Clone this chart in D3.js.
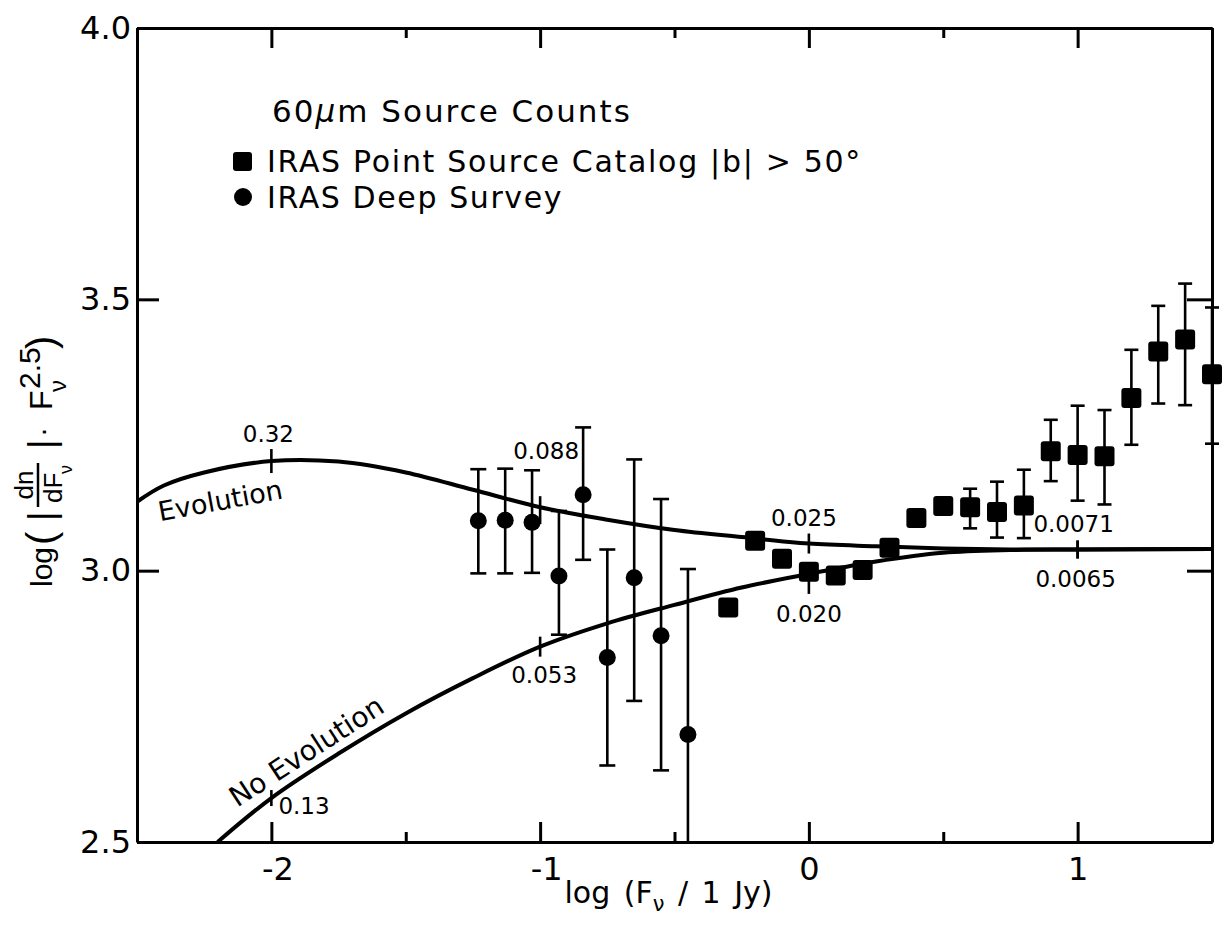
<!DOCTYPE html>
<html><head><meta charset="utf-8">
<script src="https://d3js.org/d3.v7.min.js"></script>
<style>
body{margin:0;background:#fff;}
text{font-family:"DejaVu Sans",sans-serif;fill:#000;}
.axis path,.axis line{stroke:#000;stroke-width:3;}
.axis text{font-size:32px;}
.bar{stroke:#000;stroke-width:2.6;}
.curve{fill:none;stroke:#000;stroke-width:4;}
.ytitle text{font-family:"Liberation Sans",sans-serif;}
</style></head>
<body>
<svg id="chart" width="1226" height="932"></svg>
<script>
// axis ticks
var xTicks=[-2,-1,0,1];
var xMinor=[-2.5,-1.5,-0.5,0.5,1.5];
var yTicks=[2.5,3.0,3.5,4.0];

// IRAS Deep Survey (circles)
var dsX=[-1.23,-1.13,-1.03,-0.93,-0.84,-0.75,-0.65,-0.55,-0.45];
var dsY=[3.092,3.093,3.089,2.990,3.140,2.840,2.987,2.880,2.698];
var dsHi=[3.187,3.188,3.185,3.110,3.264,3.039,3.205,3.132,3.003];
var dsLo=[2.995,2.995,2.996,2.882,3.020,2.641,2.760,2.632,2.40];

// IRAS Point Source Catalog |b|>50 (squares)
var psX=[-0.3,-0.2,-0.1,0.0,0.1,0.2,0.3,0.4,0.5,0.6,0.7,0.8,0.9,1.0,1.1,1.2,1.3,1.4,1.5];
var psY=[2.932,3.055,3.022,2.998,2.991,3.001,3.042,3.097,3.119,3.117,3.108,3.120,3.220,3.213,3.211,3.318,3.404,3.426,3.362];
var psHi=[null,null,null,null,null,null,null,null,null,3.151,3.164,3.186,3.278,3.304,3.296,3.407,3.488,3.529,3.485];
var psLo=[null,null,null,null,null,null,null,null,null,3.078,3.061,3.060,3.165,3.129,3.122,3.232,3.308,3.305,3.234];

// model curves
var evoX=[-2.5,-2.4,-2.25,-2.0,-1.75,-1.5,-1.25,-1.0,-0.75,-0.5,-0.25,0,0.25,0.5,0.75,1.0,1.5];
var evoY=[3.127,3.157,3.181,3.202,3.201,3.181,3.149,3.117,3.094,3.075,3.062,3.050,3.045,3.041,3.039,3.039,3.040];
var noEvoX=[-2.2,-2.0,-1.75,-1.5,-1.25,-1.0,-0.75,-0.5,-0.25,0,0.25,0.5,0.75,1.0,1.5];
var noEvoY=[2.50,2.581,2.663,2.737,2.802,2.860,2.903,2.937,2.969,2.994,3.017,3.033,3.038,3.039,3.040];

// redshift marks on the curves
var markX=[-2,-1,0,1];
var evoMarks=['0.32','0.088','0.025','0.0071'];
var noEvoMarks=['0.13','0.053','0.020','0.0065'];

var L=137,R=1212,T=28,B=842;
var x=d3.scaleLinear().domain([-2.5,1.5]).range([L,R]);
var y=d3.scaleLinear().domain([2.5,4.0]).range([B,T]);
var svg=d3.select('#chart');

// curves
var line=d3.line().x(function(d){return x(d[0])}).y(function(d){return y(d[1])}).curve(d3.curveCatmullRom.alpha(0.5));
var evo=d3.zip(evoX,evoY), noEvo=d3.zip(noEvoX,noEvoY);
svg.append('path').attr('class','curve').attr('d',line(evo));
svg.append('path').attr('class','curve').attr('d',line(noEvo));

function yAt(xs,ys,v){return ys[xs.indexOf(v)];}
// mark ticks + labels (px: tick up, tick down, label dx, label dy, anchor)
var evoLay=[[12,12,-3,-19,'middle'],[11,17,6,-48,'middle'],[10,10,-5,-18,'middle'],[9,9,-4,-18,'middle']];
var noLay=[[8,8,7,16,'start'],[10,10,4,36,'middle'],[0,20,0,48,'middle'],[9,9,-2,37,'middle']];
function marks(xs,ys,labels,lay){
  markX.forEach(function(v,i){
    var cx=x(v), cy=y(yAt(xs,ys,v)), o=lay[i];
    svg.append('line').attr('class','bar').attr('x1',cx).attr('x2',cx).attr('y1',cy-o[0]).attr('y2',cy+o[1]);
    svg.append('text').attr('x',cx+o[2]).attr('y',cy+o[3]).attr('text-anchor',o[4])
       .style('font-size','23px').text(labels[i]);
  });
}
marks(evoX,evoY,evoMarks,evoLay);
marks(noEvoX,noEvoY,noEvoMarks,noLay);

// curve names
svg.append('text').attr('transform','translate('+x(-2.184)+','+y(3.112)+') rotate(-10.4)')
   .attr('text-anchor','middle').style('font-size','27px').text('Evolution');
svg.append('text').attr('transform','translate('+x(-1.85)+','+y(2.652)+') rotate(-33)')
   .attr('text-anchor','middle').style('font-size','28px').text('No Evolution');

// error bars
function bars(xs,hs,ls,cap){
  xs.forEach(function(v,i){
    if(hs[i]==null) return;
    var lo=Math.max(ls[i],2.5), cx=x(v);
    svg.append('line').attr('class','bar').attr('x1',cx).attr('x2',cx).attr('y1',y(hs[i])).attr('y2',y(lo));
    svg.append('line').attr('class','bar').attr('x1',cx-cap).attr('x2',cx+cap).attr('y1',y(hs[i])).attr('y2',y(hs[i]));
    if(ls[i]>=2.5) svg.append('line').attr('class','bar').attr('x1',cx-cap).attr('x2',cx+cap).attr('y1',y(lo)).attr('y2',y(lo));
  });
}
bars(dsX,dsHi,dsLo,8);
bars(psX,psHi,psLo,7);

// points
svg.selectAll('.ds').data(d3.zip(dsX,dsY)).enter().append('circle').attr('class','ds')
   .attr('cx',function(d){return x(d[0])}).attr('cy',function(d){return y(d[1])}).attr('r',8.5);
svg.selectAll('.ps').data(d3.zip(psX,psY)).enter().append('rect').attr('class','ps')
   .attr('x',function(d){return x(d[0])-10}).attr('y',function(d){return y(d[1])-10})
   .attr('width',20).attr('height',20).attr('rx',3);

// axes
svg.append('g').attr('class','axis').attr('transform','translate(0,'+B+')')
   .call(d3.axisBottom(x).tickValues(xTicks).tickSize(-20).tickSizeOuter(0).tickPadding(15)
   .tickFormat(function(d){return d<0?'-'+Math.abs(d):d}))
   .selectAll('text').attr('dx',function(d){return d<0?6:0});
svg.append('g').attr('class','axis').attr('transform','translate(0,'+B+')')
   .call(d3.axisBottom(x).tickValues(xMinor).tickSize(-10).tickSizeOuter(0).tickFormat(''));
svg.append('g').attr('class','axis').attr('transform','translate(0,'+T+')')
   .call(d3.axisTop(x).tickValues(xTicks).tickSize(-20).tickSizeOuter(0).tickFormat(''));
svg.append('g').attr('class','axis').attr('transform','translate(0,'+T+')')
   .call(d3.axisTop(x).tickValues(xMinor).tickSize(-10).tickSizeOuter(0).tickFormat(''));
svg.append('g').attr('class','axis').attr('transform','translate('+L+',0)')
   .call(d3.axisLeft(y).tickValues(yTicks).tickSize(-22).tickSizeOuter(0).tickPadding(6).tickFormat(d3.format('.1f')));
svg.append('g').attr('class','axis').attr('transform','translate('+R+',0)')
   .call(d3.axisRight(y).tickValues(yTicks).tickSize(-25).tickSizeOuter(0).tickFormat(''));

// x title
var xt=svg.append('text').attr('x',(L+R)/2-6).attr('y',903).attr('text-anchor','middle')
   .style('font-size','30px').style('word-spacing','4px');
xt.append('tspan').text('log (F');
xt.append('tspan').attr('dy',8).style('font-size','21px').text('ν');
xt.append('tspan').attr('dy',-8).text(' / 1 Jy)');

// y title (built along the rotated axis)
var yt=svg.append('g').attr('class','ytitle').attr('transform','translate(52,587) rotate(-90)');
function yText(s,px,py,fs){return yt.append('text').attr('x',px).attr('y',py).style('font-size',fs+'px').text(s);}
yText('log',0,0,30);
yText('(',42,3,40);
yText('|',66,2,36);
yText('dn',102,-19,26).attr('text-anchor','middle');
yt.append('line').attr('x1',80).attr('x2',124).attr('y1',-14).attr('y2',-14).attr('stroke','#000').attr('stroke-width',2.5);
yText('dF',84,10,26);
yText('ν',113,20,18);
yText('|',138,2,36);
yText('·',150,0,30);
yText('F',177,0,32);
yText('ν',195,14,24);
yText('2.5',198,-12,30);
yText(')',238,3,40);

// legend
svg.append('text').attr('x',272).attr('y',122).style('font-size','31px').style('letter-spacing','2px')
   .html('60<tspan font-style="italic">μ</tspan>m Source Counts');
svg.append('rect').attr('x',233).attr('y',152).attr('width',19).attr('height',19).attr('rx',3);
svg.append('text').attr('x',267).attr('y',172).style('font-size','30px').style('letter-spacing','1.7px')
   .text('IRAS Point Source Catalog |b| > 50°');
svg.append('circle').attr('cx',243).attr('cy',197).attr('r',9);
svg.append('text').attr('x',267).attr('y',208).style('font-size','30px').style('letter-spacing','1.6px')
   .text('IRAS Deep Survey');
</script>
</body></html>
